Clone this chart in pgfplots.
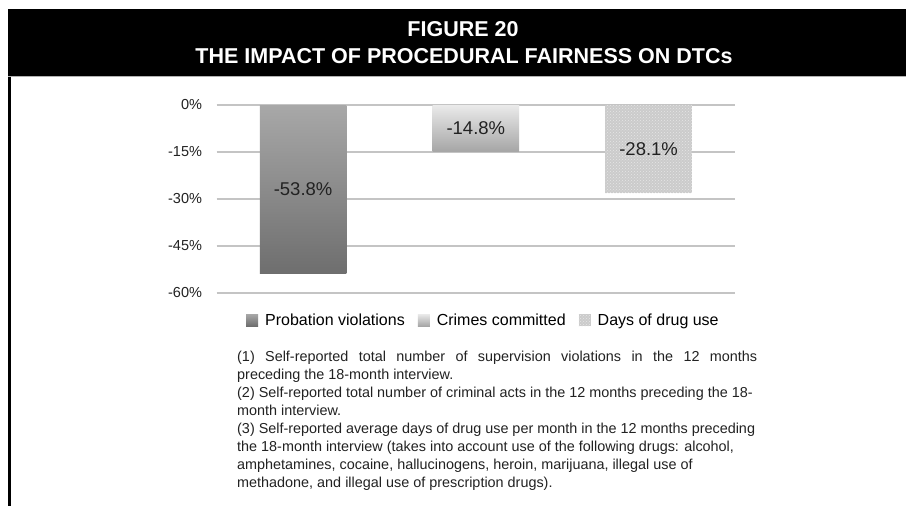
\documentclass[border=0pt]{standalone}
\usepackage{fontspec}
\setmainfont{Liberation Sans}
\usepackage{pgfplots}
\pgfplotsset{compat=1.18}
\usetikzlibrary{patterns}

\definecolor{gridgray}{HTML}{C4C4C4}
\definecolor{labgray}{HTML}{222222}
\definecolor{barAtop}{HTML}{A8A8A8}
\definecolor{barAbot}{HTML}{6E6E6E}
\definecolor{barBtop}{HTML}{EAEAEA}
\definecolor{barBbot}{HTML}{A6A6A6}
\definecolor{barC}{HTML}{CBCBCB}
\definecolor{barCdot}{HTML}{E6E6E6}

\pgfplotsset{
  sq legend/.style={legend image code/.code={\path[##1] (0pt,-6pt) rectangle (12pt,6pt);}},
  onebar/.style={ybar, bar width=0.5, bar shift=0pt, draw=none},
}

\begin{document}
\begin{tikzpicture}
\useasboundingbox (0pt,0pt) rectangle (906pt,506pt);
\fill[white] (0pt,0pt) rectangle (906pt,506pt);

% header band
\fill[black] (8pt,429pt) rectangle (906pt,497pt);
\draw[gray!60, line width=1pt] (8pt,429pt) -- (906pt,429pt);
\draw[black, line width=3pt] (9.5pt,0pt) -- (9.5pt,429pt);
\node[text=white, anchor=base, font=\bfseries\fontsize{21.5}{24}\selectfont]
  at (463pt,469.3pt) {FIGURE 20};
\node[text=white, anchor=base, font=\bfseries\fontsize{21.5}{24}\selectfont]
  at (464pt,442.7pt) {THE IMPACT OF PROCEDURAL FAIRNESS ON DTCs};

\begin{axis}[
  at={(216.7pt,213pt)}, anchor=south west,
  scale only axis, width=518.3pt, height=188pt,
  xmin=-0.5, xmax=2.5, ymin=-60, ymax=0,
  axis line style={draw=none},
  xtick=\empty,
  ytick={-60,-45,-30,-15,0},
  yticklabels={-60\%,-45\%,-30\%,-15\%,0\%},
  ymajorgrids,
  grid style={draw=gridgray, line width=2pt},
  major tick length=0pt,
  yticklabel style={font=\fontsize{14.5}{17}\selectfont, text=labgray,
    anchor=east, inner sep=0pt, xshift=-14.5pt},
  clip=false,
  point meta=explicit symbolic,
  visualization depends on={rawy \as \rawy},
  nodes near coords,
  every node near coord/.append style={anchor=center, text=labgray,
    font=\fontsize{18.5}{21}\selectfont,
    shift={(axis direction cs:0,-0.5*\rawy)}},
  legend columns=-1,
  legend style={draw=none, fill=none, at={(0.5146,-0.144)}, anchor=center,
    font=\fontsize{16}{19}\selectfont,
    /tikz/every odd column/.append style={column sep=5pt},
    /tikz/every even column/.append style={column sep=11pt}},
]
\addplot[onebar, top color=barAtop, bottom color=barAbot, sq legend]
  coordinates {(0,-53.8) [-53.8\%]};
\addplot[onebar, top color=barBtop, bottom color=barBbot, sq legend]
  coordinates {(1,-14.8) [-14.8\%]};
\addplot[onebar, fill=barC, postaction={pattern=crosshatch dots, pattern color=barCdot}, sq legend]
  coordinates {(2,-28.1) [-28.1\%]};
\legend{Probation violations, Crimes committed, Days of drug use}
\end{axis}

% notes
\node[anchor=north west, inner sep=0pt, align=left, text=labgray,
  font=\fontsize{14.4}{18}\selectfont] at (237pt,155pt) {%
\makebox[520pt][s]{(1) Self-reported total number of supervision violations in the 12 months}\\
preceding the 18-month interview.\\
(2) Self-reported total number of criminal acts in the 12 months preceding the 18-\\
month interview.\\
(3) Self-reported average days of drug use per month in the 12 months preceding\\
the 18-month interview (takes into account use of the following drugs: alcohol,\\
amphetamines, cocaine, hallucinogens, heroin, marijuana, illegal use of\\
methadone, and illegal use of prescription drugs).};
\end{tikzpicture}
\end{document}
